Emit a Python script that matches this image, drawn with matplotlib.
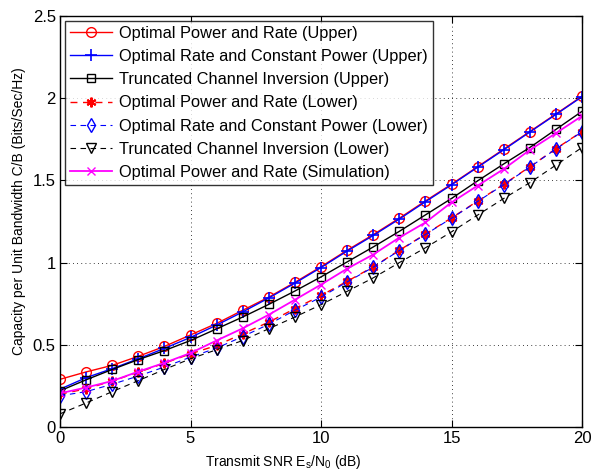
import matplotlib
matplotlib.use("Agg")
import matplotlib.pyplot as plt
import numpy as np

plt.rcParams['font.family'] = ['Liberation Sans', 'DejaVu Sans']

snr_db = list(range(0, 21))

opt_upper = [0.29, 0.335, 0.375, 0.43, 0.49, 0.56, 0.63, 0.71, 0.79, 0.88, 0.975,
             1.075, 1.17, 1.27, 1.375, 1.477, 1.583, 1.69, 1.797, 1.904, 2.012]
rate_upper = [0.23, 0.30, 0.355, 0.415, 0.478, 0.545, 0.62, 0.70, 0.785, 0.875, 0.97,
              1.07, 1.165, 1.265, 1.37, 1.473, 1.58, 1.686, 1.794, 1.901, 2.009]
tci_upper = [0.22, 0.287, 0.35, 0.41, 0.465, 0.526, 0.597, 0.669, 0.746, 0.827, 0.913,
             1.004, 1.095, 1.19, 1.29, 1.39, 1.497, 1.60, 1.70, 1.81, 1.92]
opt_lower = [0.20, 0.232, 0.28, 0.333, 0.388, 0.445, 0.496, 0.567, 0.638, 0.72, 0.80,
             0.886, 0.974, 1.075, 1.173, 1.272, 1.374, 1.476, 1.583, 1.693, 1.797]
rate_lower = [0.19, 0.215, 0.26, 0.31, 0.365, 0.425, 0.48, 0.55, 0.625, 0.71, 0.79,
              0.882, 0.972, 1.073, 1.171, 1.27, 1.372, 1.474, 1.581, 1.691, 1.795]
tci_lower = [0.08, 0.146, 0.215, 0.282, 0.35, 0.415, 0.47, 0.526, 0.598, 0.669, 0.744,
             0.825, 0.907, 1.0, 1.09, 1.187, 1.289, 1.39, 1.486, 1.593, 1.70]
opt_sim = [0.205, 0.24, 0.28, 0.337, 0.39, 0.45, 0.526, 0.60, 0.683, 0.774, 0.866,
           0.963, 1.049, 1.152, 1.244, 1.366, 1.468, 1.569, 1.685, 1.787, 1.892]

labels = ["Optimal Power and Rate (Upper)",
          "Optimal Rate and Constant Power (Upper)",
          "Truncated Channel Inversion (Upper)",
          "Optimal Power and Rate (Lower)",
          "Optimal Rate and Constant Power (Lower)",
          "Truncated Channel Inversion (Lower)",
          "Optimal Power and Rate (Simulation)"]

fig = plt.figure(figsize=(5.91, 4.73), dpi=100)
ax = fig.add_axes([60/591, 1-427/473, (582-60)/591, (427-16)/473])

lw = 1.0
ms = 7
dash = (0, (5, 4))
ax.plot(snr_db, opt_upper, color='red', marker='o', mfc='none', ms=ms, lw=lw, label=labels[0])
ax.plot(snr_db, rate_upper, color='blue', marker='+', ms=ms+2, mew=1.2, lw=lw, label=labels[1])
ax.plot(snr_db, tci_upper, color='black', marker='s', mfc='none', ms=ms-1, lw=lw, label=labels[2])
ax.plot(snr_db, opt_lower, color='red', marker=(6, 2, 0), ms=ms, mew=1.5, ls=dash, lw=lw, label=labels[3])
ax.plot(snr_db, rate_lower, color='blue', marker='d', mfc='none', ms=ms, ls=dash, lw=lw*0.8, label=labels[4])
ax.plot(snr_db, tci_lower, color='black', marker='v', mfc='none', ms=ms, ls=dash, lw=lw*0.8, label=labels[5])
ax.plot(snr_db, opt_sim, color='magenta', marker='x', ms=ms-1, lw=lw*1.3, label=labels[6])

ax.set_xlim(0, 20)
ax.set_ylim(0, 2.5)
ax.set_xticks([0, 5, 10, 15, 20])
ax.set_yticks([0, 0.5, 1, 1.5, 2, 2.5])
ax.set_yticklabels(['0', '0.5', '1', '1.5', '2', '2.5'])
ax.grid(True, color='black', ls=(0, (1, 4)), lw=0.6)
ax.tick_params(direction='in', top=True, right=True, labelsize=12, length=5, width=0.8, pad=3)
for s in ax.spines.values():
    s.set_linewidth(1.0)

ax.set_xlabel(r"Transmit SNR E$_\mathregular{s}$/N$_\mathregular{0}$ (dB)", fontsize=10)
ax.set_ylabel("Capacity per Unit Bandwidth C/B (Bits/Sec/Hz)", fontsize=10)
ax.xaxis.set_label_coords(0.427, -0.064)
ax.yaxis.set_label_coords(-0.066, 0.526)

leg = ax.legend(loc='upper left', fontsize=11.8, frameon=True, fancybox=False,
                edgecolor='black', borderaxespad=0.3, handlelength=2.6,
                labelspacing=0.5, borderpad=0.3, handletextpad=0.4)
leg.get_frame().set_linewidth(1.0)

fig.savefig("out.png", dpi=100)
